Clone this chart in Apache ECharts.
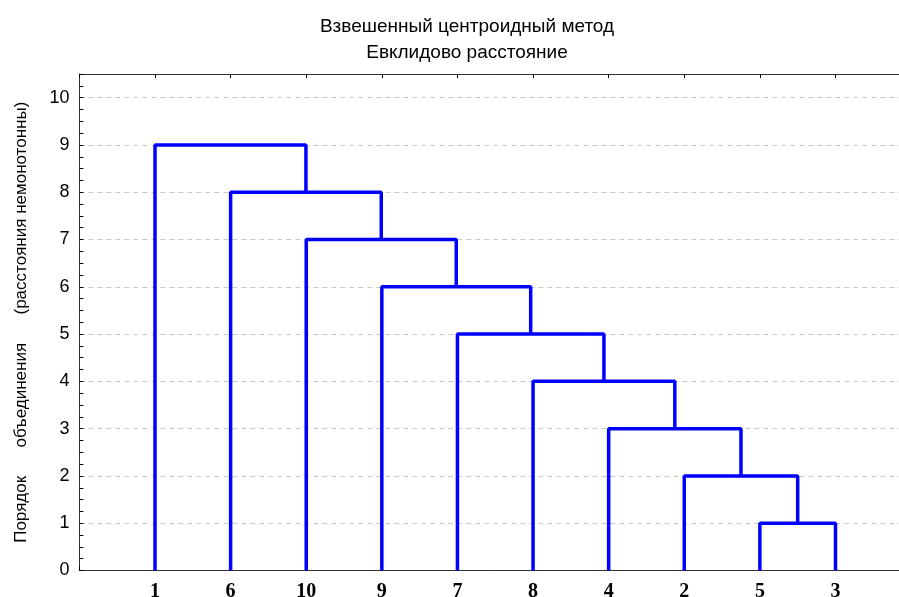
<!DOCTYPE html>
<html>
<head>
<meta charset="utf-8">
<script src="https://cdn.jsdelivr.net/npm/echarts@6/dist/echarts.min.js"></script>
<style>
html,body{margin:0;padding:0;background:#fff;}
#chart{width:899px;height:597px;}
</style>
</head>
<body>
<div id="chart"></div>
<script>
// Leaf order along the x axis
const leaves = ['1', '6', '10', '9', '7', '8', '4', '2', '5', '3'];
// Merges: children indices (0..9 = leaves, 10+ = clusters formed by earlier merges)
const mergeLeft   = [8, 7, 6, 5, 4, 3, 2, 1, 0];
const mergeRight  = [9, 10, 11, 12, 13, 14, 15, 16, 17];
const mergeHeight = [1, 2, 3, 4, 5, 6, 7, 8, 9];
// Y tick labels
const yTicks = [0, 1, 2, 3, 4, 5, 6, 7, 8, 9, 10];

const titleLines = ['Взвешенный центроидный метод', 'Евклидово расстояние'];
const yName = 'Порядок      объединения      (расстояния немонотонны)';

// Build node positions (x = leaf slot, y = merge height)
const nodeX = leaves.map((_, i) => i + 1);
const nodeY = leaves.map(() => 0);
const series = [];
for (let m = 0; m < mergeHeight.length; m++) {
  const l = mergeLeft[m], r = mergeRight[m], h = mergeHeight[m];
  series.push({
    type: 'line',
    symbol: 'none',
    silent: true,
    z: 5,
    lineStyle: { color: '#0000ff', width: 3.5 },
    data: [[nodeX[l], nodeY[l]], [nodeX[l], h], [nodeX[r], h], [nodeX[r], nodeY[r]]]
  });
  nodeX.push((nodeX[l] + nodeX[r]) / 2);
  nodeY.push(h);
}

const chart = echarts.init(document.getElementById('chart'), null, { renderer: 'canvas' });
chart.setOption({
  animation: false,
  backgroundColor: '#ffffff',
  title: [
    { text: titleLines[0], left: 462, top: 12, textAlign: 'center',
      textStyle: { fontFamily: 'Liberation Sans', fontSize: 19, fontWeight: 'normal', color: '#000' } },
    { text: titleLines[1], left: 462, top: 38, textAlign: 'center',
      textStyle: { fontFamily: 'Liberation Sans', fontSize: 19, fontWeight: 'normal', color: '#000' } }
  ],
  grid: { left: 79.4, top: 74, right: 0, bottom: 26.5, containLabel: false, outerBoundsMode: 'none' },
  xAxis: [
    {
      type: 'value', position: 'bottom', min: 0, max: 10.84, interval: 1,
      axisLine: { show: true, lineStyle: { color: '#333', width: 1 } },
      axisTick: { show: true, inside: true, length: 4, lineStyle: { color: '#000' } },
      splitLine: { show: false },
      axisLabel: {
        margin: 11,
        fontFamily: 'Liberation Serif', fontWeight: 'bold', fontSize: 20, color: '#000',
        showMaxLabel: false,
        formatter: v => (v >= 1 && v <= leaves.length && Number.isInteger(v)) ? leaves[v - 1] : ''
      }
    },
    {
      type: 'value', position: 'top', min: 0, max: 10.84, interval: 1,
      axisLine: { show: true, lineStyle: { color: '#333', width: 1 } },
      axisTick: { show: true, inside: true, length: 4, lineStyle: { color: '#000' } },
      splitLine: { show: false },
      axisLabel: { show: false }
    }
  ],
  yAxis: {
    type: 'value', min: 0, max: 10.5, interval: 1,
    name: yName, nameLocation: 'middle', nameRotate: 90, nameGap: 50,
    nameTextStyle: { fontFamily: 'Liberation Sans', fontSize: 17, color: '#000' },
    axisLine: { show: true, lineStyle: { color: '#333', width: 1 } },
    axisTick: { show: true, inside: true, length: 4, lineStyle: { color: '#000' } },
    minorTick: { show: true, splitNumber: 4, length: 4, lineStyle: { color: '#000' } },
    splitLine: { show: true, lineStyle: { color: '#c8c8c8', type: [5, 4], width: 1 } },
    axisLabel: {
      margin: 10,
      fontFamily: 'Liberation Sans', fontSize: 18, color: '#000',
      formatter: v => yTicks.indexOf(v) >= 0 ? String(v) : ''
    }
  },
  series: series
});
</script>
</body>
</html>
